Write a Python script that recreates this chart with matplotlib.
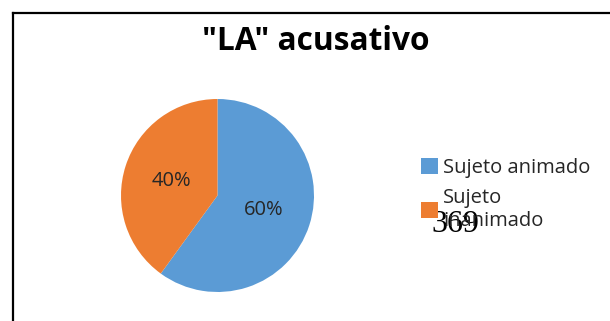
import matplotlib
matplotlib.use("Agg")
import matplotlib.pyplot as plt
from matplotlib.lines import Line2D

plt.rcParams['font.family'] = ['Open Sans', 'DejaVu Sans']

# datos
categorias = ['Sujeto animado', 'Sujeto\ninanimado']
porcentajes = [60, 40]
colores = ['#5B9BD5', '#ED7D31']
titulo = '"LA" acusativo'
pagina = '369'

W, H = 610, 321
fig = plt.figure(figsize=(W / 100, H / 100), dpi=100)

# marco del grafico (solo izquierda y arriba quedan visibles)
fig.add_artist(Line2D([13 / W, 13 / W], [0, 1 - 13 / H], color='black', lw=1.6))
fig.add_artist(Line2D([13 / W, 1], [1 - 13 / H, 1 - 13 / H], color='black', lw=1.6))

# pastel
cx, cy, r = 217.5, 195.5, 96.5
ax = fig.add_axes([(cx - r) / W, (H - cy - r) / H, 2 * r / W, 2 * r / H])
wedges, texts, autotexts = ax.pie(porcentajes, colors=colores, startangle=90,
                                  counterclock=False, autopct='%d%%',
                                  pctdistance=0.5, radius=1,
                                  textprops={'fontsize': 14.5, 'color': '#262626'})
ax.set_xlim(-1, 1)
ax.set_ylim(-1, 1)
ax.set_aspect('equal')
ax.axis('off')

fig.text(316 / W, 1 - 50 / H, titulo, ha='center', va='baseline',
         fontsize=22.8, fontweight='bold', color='black')

leg = fig.legend(wedges, categorias, loc='upper left',
                 bbox_to_anchor=(421 / W, 1 - 158 / H), frameon=False,
                 fontsize=14.5, handlelength=0.85, handleheight=0.85,
                 handletextpad=0.25, labelspacing=0.5, borderpad=0,
                 borderaxespad=0)
for t in leg.get_texts():
    t.set_color('#262626')

fig.text(431 / W, 1 - 232 / H, pagina, ha='left', va='baseline',
         fontsize=23, family=['Liberation Serif'], color='black')

fig.savefig('out.png', dpi=100)
